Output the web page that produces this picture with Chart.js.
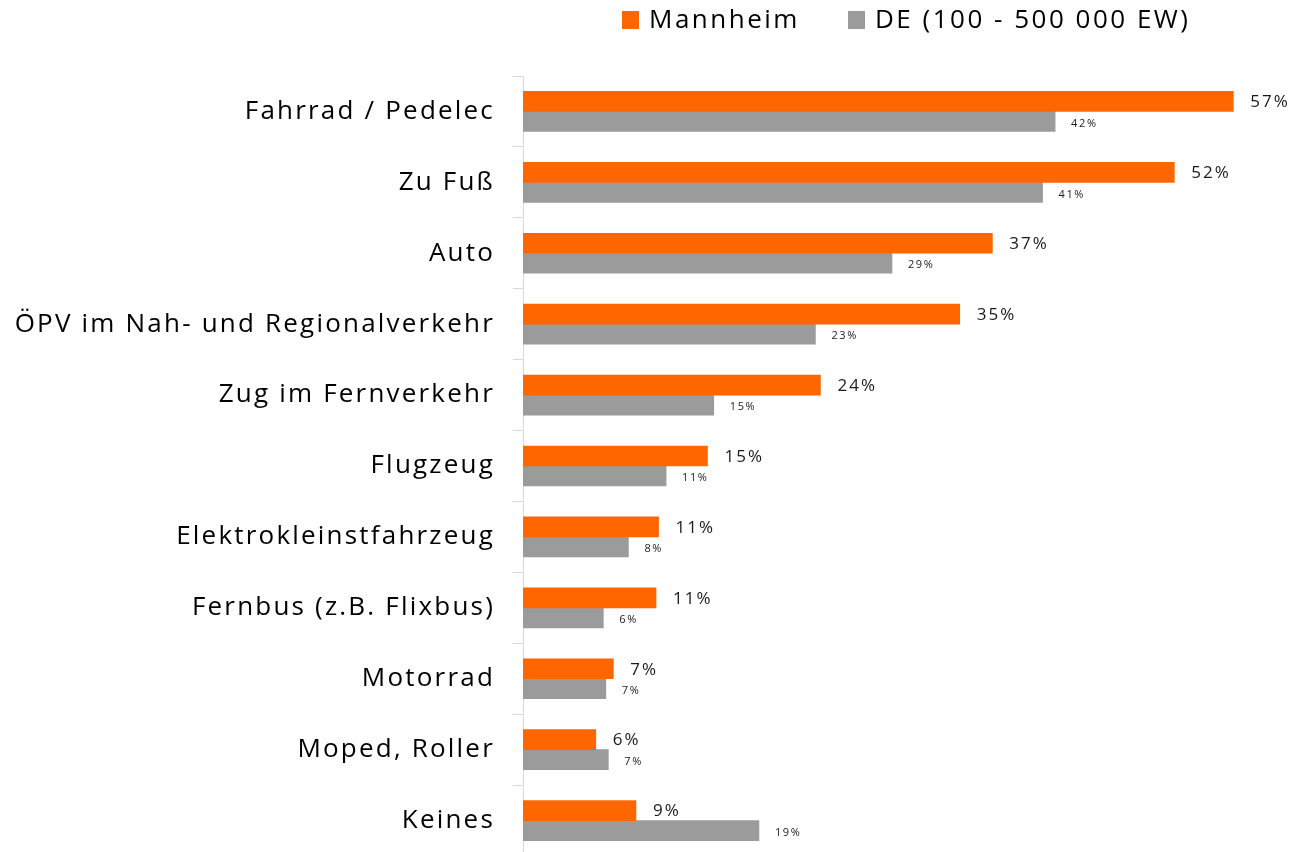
<!DOCTYPE html>
<html>
<head>
<meta charset="utf-8">
<script src="https://cdn.jsdelivr.net/npm/chart.js@4"></script>
<style>
  html, body { margin: 0; padding: 0; background: #fff; overflow: hidden; }
  canvas { display: block; }
</style>
</head>
<body>
<canvas id="myChart" width="1291" height="856"></canvas>
<script>
const categories = ['Fahrrad / Pedelec', 'Zu Fuß', 'Auto', 'ÖPV im Nah- und Regionalverkehr', 'Zug im Fernverkehr',
  'Flugzeug', 'Elektrokleinstfahrzeug', 'Fernbus (z.B. Flixbus)', 'Motorrad', 'Moped, Roller', 'Keines'];
const mannheim = [56.6, 51.9, 37.4, 34.8, 23.7, 14.7, 10.8, 10.6, 7.2, 5.8, 9.0];
const germany = [42.4, 41.4, 29.4, 23.3, 15.2, 11.4, 8.4, 6.4, 6.6, 6.8, 18.8];
const seriesNames = ['Mannheim', 'DE (100 - 500 000 EW)'];
const seriesColors = ['#ff6600', '#9b9b9b'];

const FONT = "'Open Sans', sans-serif";

// wider letter spacing like the original slide text
const spacing = {
  id: 'spacing',
  beforeDraw(chart) { chart.ctx.letterSpacing = '2.2px'; }
};

const valueLabels = {
  id: 'valueLabels',
  afterDatasetsDraw(chart) {
    const c = chart.ctx;
    c.save();
    c.textBaseline = 'middle';
    c.textAlign = 'left';
    chart.data.datasets.forEach((ds, i) => {
      const meta = chart.getDatasetMeta(i);
      meta.data.forEach((bar, j) => {
        const txt = Math.round(ds.data[j]) + '%';
        c.fillStyle = '#1a1a1a';
        if (i === 0) {
          c.font = '17px ' + FONT;
          c.letterSpacing = '2px';
          c.fillText(txt, bar.x + 17, bar.y + 1);
        } else {
          c.font = '11px ' + FONT;
          c.letterSpacing = '1.6px';
          c.fillText(txt, bar.x + 16, bar.y + 2);
        }
      });
    });
    c.restore();
  }
};

const topLegend = {
  id: 'topLegend',
  afterDraw(chart) {
    const c = chart.ctx;
    c.save();
    c.font = '26px ' + FONT;
    c.letterSpacing = '2.5px';
    c.textBaseline = 'middle';
    c.textAlign = 'left';
    const xs = [622, 848];
    chart.data.datasets.forEach((ds, i) => {
      c.fillStyle = ds.backgroundColor;
      c.fillRect(xs[i], 11, 17, 18);
      c.fillStyle = '#000';
      c.fillText(ds.label, xs[i] + 27, 21);
    });
    c.restore();
  }
};

new Chart(document.getElementById('myChart'), {
  type: 'bar',
  data: {
    labels: categories,
    datasets: [
      { label: seriesNames[0], data: mannheim, backgroundColor: seriesColors[0], barThickness: 20 },
      { label: seriesNames[1], data: germany, backgroundColor: seriesColors[1], barThickness: 20 }
    ]
  },
  options: {
    indexAxis: 'y',
    responsive: false,
    animation: false,
    layout: { padding: { top: 76, right: 15, bottom: 0, left: 0 } },
    plugins: {
      legend: { display: false },
      tooltip: { enabled: false }
    },
    scales: {
      x: { display: false, min: 0, max: 60 },
      y: {
        afterFit(scale) {
          scale.width = 523;
          scale.paddingTop = 0;
          scale.paddingBottom = 0;
        },
        grid: { drawOnChartArea: false, offset: true, tickLength: 10, color: '#d9d9d9', lineWidth: 1 },
        border: { color: '#d9d9d9', width: 1 },
        ticks: { padding: 18, color: '#000', font: { family: FONT, size: 26 } }
      }
    }
  },
  plugins: [spacing, valueLabels, topLegend]
});
</script>
</body>
</html>
